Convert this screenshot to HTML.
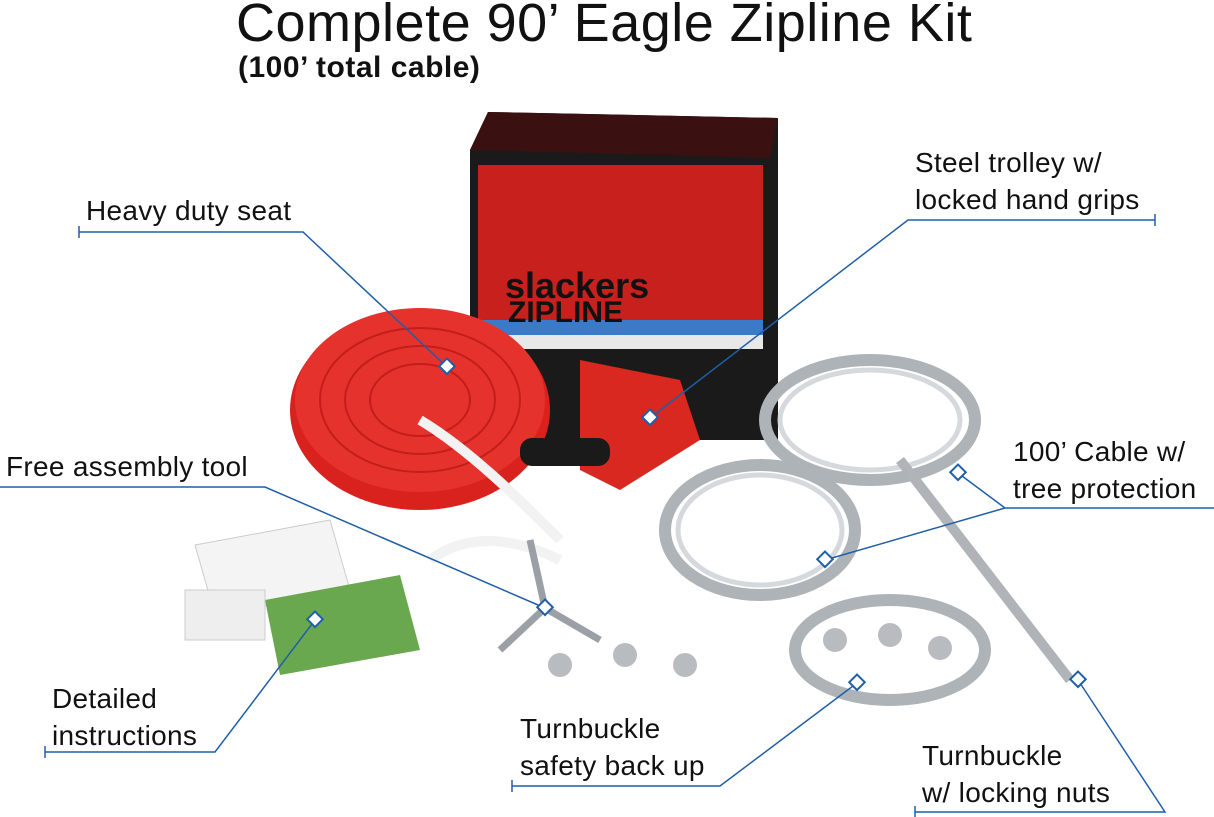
<!DOCTYPE html>
<html><head><meta charset="utf-8"><style>
html,body{margin:0;padding:0;background:#fff;}
body{width:1214px;height:817px;position:relative;overflow:hidden;font-family:"Liberation Sans",sans-serif;color:#111;}
.t{position:absolute;white-space:nowrap;font-size:28px;line-height:36.5px;letter-spacing:0.3px;}
svg{position:absolute;left:0;top:0;}
</style></head><body>
<svg width="1214" height="817" viewBox="0 0 1214 817">
<polygon points="488,112 778,118 778,440 470,440 470,150" fill="#1a1a1a"/>
<polygon points="488,112 778,118 770,158 470,150" fill="#3a1010"/>
<rect x="478" y="165" width="285" height="170" fill="#c8201c"/>
<rect x="478" y="320" width="285" height="22" fill="#3a7ac8"/>
<rect x="478" y="335" width="285" height="14" fill="#e8e8e8"/>
<text x="505" y="298" font-family="Liberation Sans" font-weight="bold" font-size="36" fill="#111">slackers</text>
<text x="508" y="322" font-family="Liberation Sans" font-weight="bold" font-size="30" fill="#111">ZIPLINE</text>
<g fill="none" stroke="#aeb3b8" stroke-width="12">
<ellipse cx="870" cy="420" rx="105" ry="60"/>
<ellipse cx="760" cy="530" rx="95" ry="65"/>
<ellipse cx="890" cy="650" rx="95" ry="50"/>
</g>
<g fill="none" stroke="#d5d8dc" stroke-width="5">
<ellipse cx="870" cy="420" rx="90" ry="50"/>
<ellipse cx="760" cy="530" rx="82" ry="55"/>
</g>
<line x1="900" y1="460" x2="1070" y2="680" stroke="#b0b4b8" stroke-width="10"/>
<ellipse cx="420" cy="410" rx="130" ry="100" fill="#d9221e"/>
<ellipse cx="420" cy="400" rx="125" ry="92" fill="#e5322c"/>
<g fill="none" stroke="#c41e1a" stroke-width="2">
<ellipse cx="420" cy="400" rx="100" ry="72"/><ellipse cx="420" cy="400" rx="75" ry="54"/><ellipse cx="420" cy="400" rx="50" ry="36"/>
</g>
<path d="M420,420 C470,450 520,500 560,540 M430,560 C470,530 520,540 560,560" stroke="#f2f2f2" stroke-width="10" fill="none"/>
<polygon points="580,360 680,380 700,440 620,490 580,470" fill="#d9281f"/>
<rect x="520" y="438" width="90" height="28" rx="12" fill="#1a1a1a"/>
<polygon points="195,545 330,520 350,590 215,615" fill="#f4f4f4" stroke="#ccc"/>
<polygon points="265,600 400,575 420,650 280,675" fill="#6aa84f"/>
<rect x="185" y="590" width="80" height="50" fill="#eee" stroke="#ccc"/>
<g stroke="#9aa0a6" stroke-width="7"><line x1="545" y1="608" x2="530" y2="540"/><line x1="545" y1="608" x2="500" y2="650"/><line x1="545" y1="608" x2="600" y2="640"/></g>
<g fill="#b8bcc0"><circle cx="560" cy="665" r="12"/><circle cx="625" cy="655" r="12"/><circle cx="685" cy="665" r="12"/><circle cx="835" cy="640" r="12"/><circle cx="890" cy="635" r="12"/><circle cx="940" cy="648" r="12"/></g>
<g stroke="#1f5fa8" stroke-width="1.5" fill="none">
<path d="M79,232 H303 L447,367"/><path d="M79,226 V238"/>
<path d="M1155,220 H908 L650,418"/><path d="M1155,214 V226"/>
<path d="M0,487 H265 L545,608"/>
<path d="M1214,508 H1005 L958,473 M1005,508 L825,560"/>
<path d="M45,752 H215 L315,620"/><path d="M45,746 V758"/>
<path d="M512,786 H720 L857,683"/><path d="M512,780 V792"/>
<path d="M915,812 H1165 L1078,680"/><path d="M915,806 V817"/>
</g>
<g fill="#fff" stroke="#1f5fa8" stroke-width="2">
<rect x="441" y="361" width="11" height="11" transform="rotate(45 447 367)"/>
<rect x="644" y="412" width="11" height="11" transform="rotate(45 650 418)"/>
<rect x="539" y="602" width="11" height="11" transform="rotate(45 545 608)"/>
<rect x="952" y="467" width="11" height="11" transform="rotate(45 958 473)"/>
<rect x="819" y="554" width="11" height="11" transform="rotate(45 825 560)"/>
<rect x="309" y="614" width="11" height="11" transform="rotate(45 315 620)"/>
<rect x="851" y="677" width="11" height="11" transform="rotate(45 857 683)"/>
<rect x="1072" y="674" width="11" height="11" transform="rotate(45 1078 680)"/>
</g>
</svg>
<div class="t" style="left:236px;top:-8px;font-size:54px;line-height:62px;letter-spacing:0.5px;">Complete 90’ Eagle Zipline Kit</div>
<div class="t" style="left:238px;top:50px;font-size:30px;font-weight:bold;letter-spacing:0.5px;">(100’ total cable)</div>
<div class="t" style="left:86px;top:193px;">Heavy duty seat</div>
<div class="t" style="left:915px;top:145px;">Steel trolley w/<br>locked hand grips</div>
<div class="t" style="left:6px;top:449px;">Free assembly tool</div>
<div class="t" style="left:1013px;top:434px;">100’ Cable w/<br>tree protection</div>
<div class="t" style="left:52px;top:681px;">Detailed<br>instructions</div>
<div class="t" style="left:520px;top:711px;">Turnbuckle<br>safety back up</div>
<div class="t" style="left:922px;top:738px;">Turnbuckle<br>w/ locking nuts</div>
</body></html>
